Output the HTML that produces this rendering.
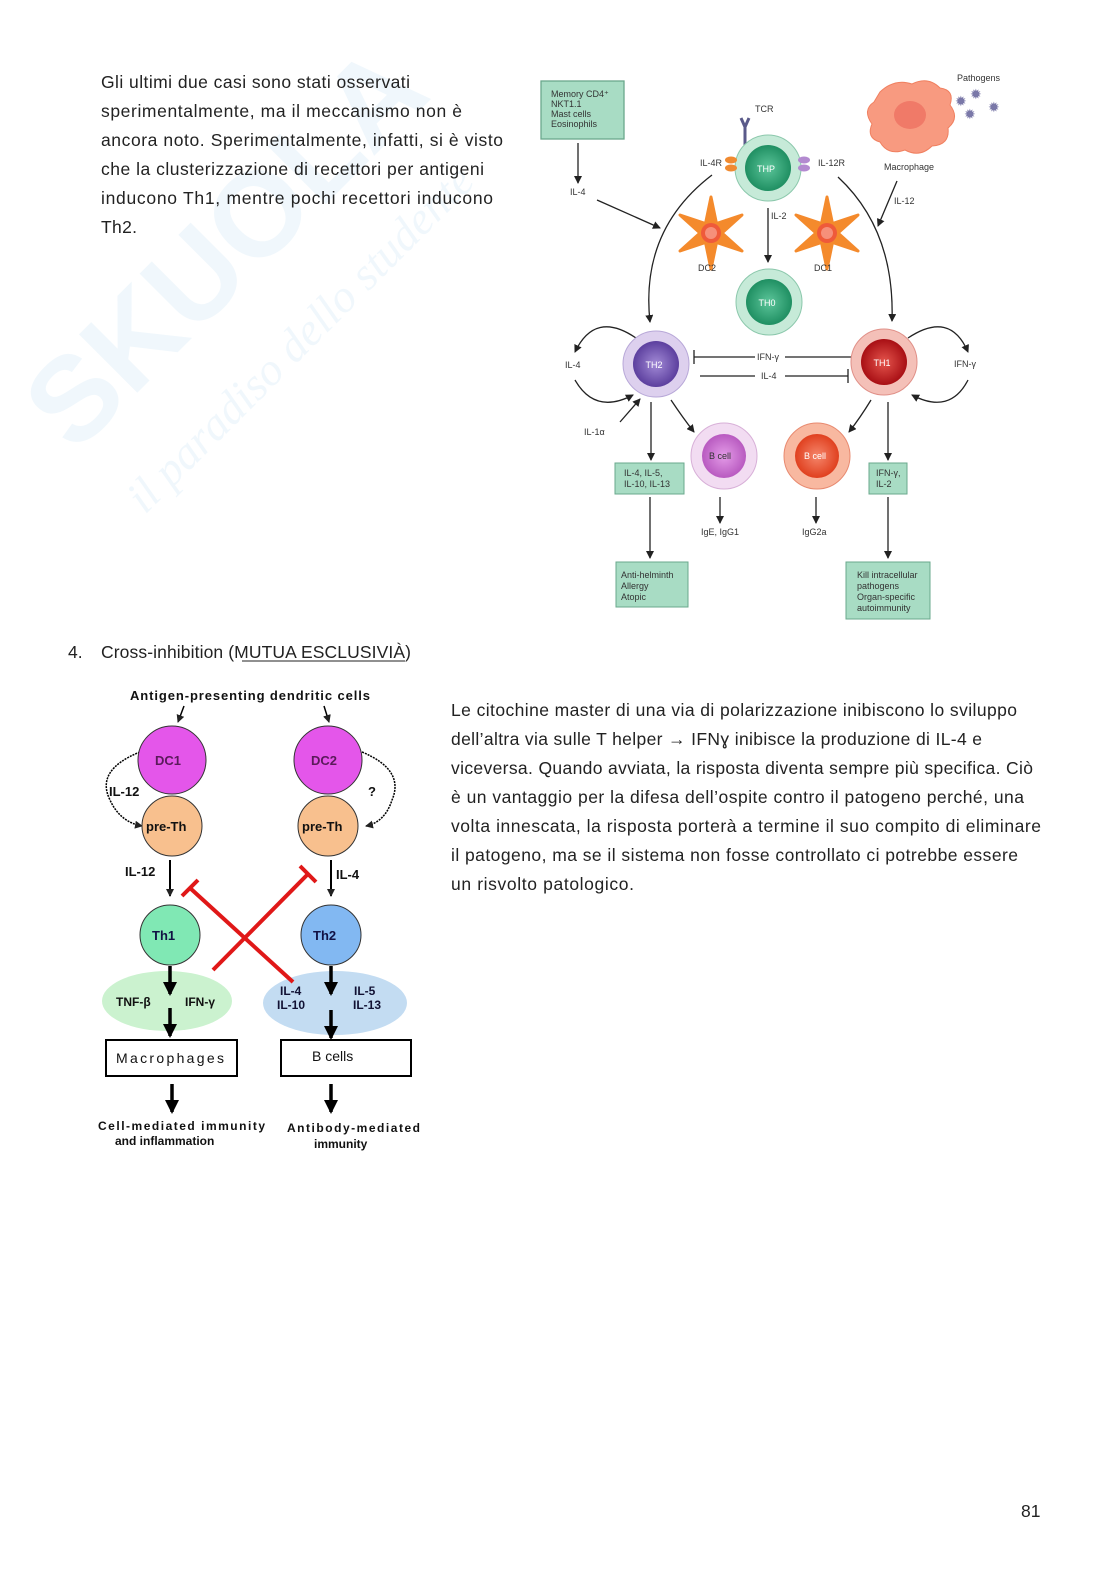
<!DOCTYPE html>
<html><head><meta charset="utf-8"><style>
html,body{margin:0;padding:0;background:#fff}
svg{display:block}
.t{font-family:"Liberation Sans",sans-serif;font-size:17.5px;fill:#222}
.s{font-family:"Liberation Sans",sans-serif;font-size:9px;fill:#333}
.b{font-family:"Liberation Sans",sans-serif;font-weight:bold;font-size:13px;fill:#111}
</style></head><body>
<svg width="1116" height="1579" viewBox="0 0 1116 1579" xmlns="http://www.w3.org/2000/svg">
<defs>
<marker id="a" markerWidth="8" markerHeight="8" refX="7" refY="4" orient="auto" markerUnits="userSpaceOnUse"><path d="M0,0 L8,4 L0,8 z" fill="#222"/></marker>
<marker id="ab" markerWidth="14" markerHeight="14" refX="12" refY="7" orient="auto" markerUnits="userSpaceOnUse"><path d="M0,0 L14,7 L0,14 z" fill="#000"/></marker>
<radialGradient id="gg"><stop offset="0" stop-color="#5cc59a"/><stop offset="1" stop-color="#1f8f62"/></radialGradient>
<radialGradient id="gp"><stop offset="0" stop-color="#a28ad6"/><stop offset="1" stop-color="#5c3f9e"/></radialGradient>
<radialGradient id="gr"><stop offset="0" stop-color="#e4544c"/><stop offset="1" stop-color="#a80f14"/></radialGradient>
<radialGradient id="gb"><stop offset="0" stop-color="#e49be8"/><stop offset="1" stop-color="#b85ac0"/></radialGradient>
<radialGradient id="go"><stop offset="0" stop-color="#f5866b"/><stop offset="1" stop-color="#e0401f"/></radialGradient>
<g id="star"><polygon points="0,-36 5.5,-9.5 31,-18 11,0 31,18 5.5,9.5 0,36 -5.5,9.5 -31,18 -11,0 -31,-18 -5.5,-9.5" fill="#f48a2c" stroke="#f48a2c" stroke-width="3" stroke-linejoin="round"/><circle r="10" fill="#ef5a3a"/><circle r="6" fill="#f6907a"/></g>
</defs>

<!-- watermark -->
<g opacity="0.06">
<text transform="translate(75,455) rotate(-45)" font-family="Liberation Sans" font-weight="bold" font-size="120" fill="#1a8ad0">SKUOLA</text>
<text transform="translate(145,515) rotate(-45)" font-family="Liberation Serif" font-style="italic" font-size="46" fill="#1a8ad0">il paradiso dello studente</text>
</g>

<!-- top left text -->
<g class="t">
<text x="101" y="88" textLength="309">Gli ultimi due casi sono stati osservati</text>
<text x="101" y="117" textLength="361">sperimentalmente, ma il meccanismo non è</text>
<text x="101" y="146" textLength="402">ancora noto. Sperimentalmente, infatti, si è visto</text>
<text x="101" y="175" textLength="383">che la clusterizzazione di recettori per antigeni</text>
<text x="101" y="204" textLength="392">inducono Th1, mentre pochi recettori inducono</text>
<text x="101" y="233" textLength="36">Th2.</text>
</g>

<!-- TOP DIAGRAM -->
<g stroke="#222" stroke-width="1.3" fill="none">
<rect x="541" y="81" width="83" height="58" fill="#a8dcc4" stroke="#6aa88c"/>
<line x1="578" y1="143" x2="578" y2="183" marker-end="url(#a)"/>
<line x1="597" y1="200" x2="660" y2="228" marker-end="url(#a)"/>
<path d="M712,175 Q640,230 650,322" marker-end="url(#a)"/>
<path d="M838,177 Q895,230 892,321" marker-end="url(#a)"/>
<line x1="768" y1="208" x2="768" y2="262" marker-end="url(#a)"/>
<line x1="897" y1="181" x2="878" y2="226" marker-end="url(#a)"/>
<line x1="694" y1="357" x2="755" y2="357"/><line x1="785" y1="357" x2="852" y2="357"/><line x1="694" y1="350" x2="694" y2="364"/>
<line x1="700" y1="376" x2="755" y2="376"/><line x1="785" y1="376" x2="848" y2="376"/><line x1="848" y1="369" x2="848" y2="383"/>
<path d="M636,338 Q595,310 575,352" marker-end="url(#a)"/>
<path d="M575,380 Q595,415 633,395" marker-end="url(#a)"/>
<path d="M908,338 Q950,310 968,352" marker-end="url(#a)"/>
<path d="M968,380 Q950,415 912,395" marker-end="url(#a)"/>
<line x1="620" y1="422" x2="640" y2="399" marker-end="url(#a)"/>
<line x1="651" y1="402" x2="651" y2="460" marker-end="url(#a)"/>
<path d="M671,400 Q683,418 694,432" marker-end="url(#a)"/>
<path d="M871,400 Q860,418 849,432" marker-end="url(#a)"/>
<line x1="888" y1="402" x2="888" y2="460" marker-end="url(#a)"/>
<line x1="720" y1="497" x2="720" y2="523" marker-end="url(#a)"/>
<line x1="816" y1="497" x2="816" y2="523" marker-end="url(#a)"/>
<line x1="650" y1="497" x2="650" y2="558" marker-end="url(#a)"/>
<line x1="888" y1="497" x2="888" y2="558" marker-end="url(#a)"/>
</g>
<rect x="615" y="463" width="69" height="31" fill="#a8dcc4" stroke="#6aa88c"/>
<rect x="869" y="463" width="38" height="31" fill="#a8dcc4" stroke="#6aa88c"/>
<rect x="616" y="562" width="72" height="45" fill="#a8dcc4" stroke="#6aa88c"/>
<rect x="846" y="562" width="84" height="57" fill="#a8dcc4" stroke="#6aa88c"/>
<!-- TCR -->
<path d="M745,145 L745,127 M741,118 L745,127 L749,118" stroke="#5a5a8a" stroke-width="3" fill="none"/>
<!-- cells -->
<circle cx="768" cy="168" r="33" fill="#c6ead8" stroke="#8cc8ac"/><circle cx="768" cy="168" r="23" fill="url(#gg)"/>
<circle cx="769" cy="302" r="33" fill="#c6ead8" stroke="#8cc8ac"/><circle cx="769" cy="302" r="23" fill="url(#gg)"/>
<circle cx="656" cy="364" r="33" fill="#ddd0ee" stroke="#b8a8d8"/><circle cx="656" cy="364" r="23" fill="url(#gp)"/>
<circle cx="884" cy="362" r="33" fill="#f4c0b8" stroke="#e09088"/><circle cx="884" cy="362" r="23" fill="url(#gr)"/>
<circle cx="724" cy="456" r="33" fill="#f2dcf2" stroke="#d8b0d8"/><circle cx="724" cy="456" r="22" fill="url(#gb)"/>
<circle cx="817" cy="456" r="33" fill="#f8b8a0" stroke="#e88a70"/><circle cx="817" cy="456" r="22" fill="url(#go)"/>
<g font-family="Liberation Sans" font-size="9" fill="#fff" text-anchor="middle">
<text x="766" y="172">THP</text><text x="767" y="306">TH0</text><text x="654" y="368">TH2</text><text x="882" y="366">TH1</text>
<text x="720" y="459" fill="#333">B cell</text><text x="815" y="459">B cell</text></g>
<ellipse cx="731" cy="160" rx="6" ry="3.5" fill="#f08a30"/><ellipse cx="731" cy="168" rx="6" ry="3.5" fill="#f08a30"/>
<ellipse cx="804" cy="160" rx="6" ry="3.5" fill="#b38ad0"/><ellipse cx="804" cy="168" rx="6" ry="3.5" fill="#b38ad0"/>
<use href="#star" x="711" y="233"/>
<use href="#star" x="827" y="233"/>
<!-- macrophage -->
<path d="M880,92 Q895,78 912,84 Q928,76 940,88 Q955,90 950,105 Q960,118 948,128 Q950,145 932,146 Q920,158 905,150 Q888,156 880,142 Q866,138 872,124 Q862,110 874,102 Z" fill="#f89a80" stroke="#f08060"/>
<ellipse cx="910" cy="115" rx="16" ry="14" fill="#f07a68"/>
<g fill="#7a78a8" font-size="14" font-family="DejaVu Sans"><text x="955" y="106">✹</text><text x="970" y="99">✹</text><text x="964" y="119">✹</text><text x="988" y="112">✹</text></g>
<g class="s">
<text x="551" y="97">Memory CD4⁺</text><text x="551" y="107">NKT1.1</text><text x="551" y="117">Mast cells</text><text x="551" y="127">Eosinophils</text>
<text x="570" y="195">IL-4</text>
<text x="755" y="112">TCR</text>
<text x="700" y="166">IL-4R</text><text x="818" y="166">IL-12R</text>
<text x="771" y="219">IL-2</text>
<text x="698" y="271">DC2</text><text x="814" y="271">DC1</text>
<text x="957" y="81">Pathogens</text>
<text x="884" y="170">Macrophage</text>
<text x="894" y="204">IL-12</text>
<text x="757" y="360">IFN-γ</text><text x="761" y="379">IL-4</text>
<text x="565" y="368">IL-4</text><text x="954" y="367">IFN-γ</text>
<text x="584" y="435">IL-1α</text>
<text x="624" y="476">IL-4, IL-5,</text><text x="624" y="487">IL-10, IL-13</text>
<text x="876" y="476">IFN-γ,</text><text x="876" y="487">IL-2</text>
<text x="701" y="535">IgE, IgG1</text><text x="802" y="535">IgG2a</text>
<text x="621" y="578">Anti-helminth</text><text x="621" y="589">Allergy</text><text x="621" y="600">Atopic</text>
<text x="857" y="578">Kill intracellular</text><text x="857" y="589">pathogens</text><text x="857" y="600">Organ-specific</text><text x="857" y="611">autoimmunity</text>
</g>

<!-- heading -->
<text class="t" x="68" y="658">4.</text>
<text class="t" x="101" y="658" textLength="310">Cross-inhibition (MUTUA ESCLUSIVIÀ)</text>
<line x1="242" y1="661" x2="405" y2="661" stroke="#222" stroke-width="1"/>

<!-- BOTTOM DIAGRAM -->
<text class="b" x="250" y="700" text-anchor="middle" textLength="240">Antigen-presenting dendritic cells</text>
<g stroke="#000" stroke-width="1.5" fill="none">
<line x1="184" y1="706" x2="178" y2="722" marker-end="url(#a)"/>
<line x1="324" y1="706" x2="329" y2="722" marker-end="url(#a)"/>
<path d="M140,752 Q95,770 110,800 Q120,822 142,826" stroke-dasharray="2,1" marker-end="url(#a)"/>
<path d="M362,752 Q405,770 392,800 Q385,822 366,826" stroke-dasharray="2,1" marker-end="url(#a)"/>
</g>
<circle cx="172" cy="760" r="34" fill="#e456ea" stroke="#333"/>
<circle cx="328" cy="760" r="34" fill="#e456ea" stroke="#333"/>
<circle cx="172" cy="826" r="30" fill="#f8c08e" stroke="#333"/>
<circle cx="328" cy="826" r="30" fill="#f8c08e" stroke="#333"/>
<ellipse cx="167" cy="1001" rx="65" ry="30" fill="#cbf2cf"/>
<ellipse cx="335" cy="1003" rx="72" ry="32" fill="#c3dcf2"/>
<circle cx="170" cy="935" r="30" fill="#80e8b4" stroke="#333"/>
<circle cx="331" cy="935" r="30" fill="#82b8f2" stroke="#333"/>
<g stroke="#000" stroke-width="2" fill="none">
<line x1="170" y1="860" x2="170" y2="896" marker-end="url(#a)"/>
<line x1="331" y1="860" x2="331" y2="896" marker-end="url(#a)"/>
</g>
<g stroke="#000" stroke-width="3.5">
<line x1="170" y1="966" x2="170" y2="994" marker-end="url(#ab)"/>
<line x1="170" y1="1008" x2="170" y2="1036" marker-end="url(#ab)"/>
<line x1="331" y1="966" x2="331" y2="994" marker-end="url(#ab)"/>
<line x1="331" y1="1010" x2="331" y2="1038" marker-end="url(#ab)"/>
<line x1="172" y1="1084" x2="172" y2="1112" marker-end="url(#ab)"/>
<line x1="331" y1="1084" x2="331" y2="1112" marker-end="url(#ab)"/>
</g>
<g stroke="#e01818" stroke-width="4" fill="none">
<line x1="213" y1="970" x2="308" y2="874"/><line x1="300" y1="866" x2="316" y2="882"/>
<line x1="293" y1="982" x2="190" y2="888"/><line x1="182" y1="896" x2="198" y2="880"/>
</g>
<rect x="106" y="1040" width="131" height="36" fill="#fff" stroke="#000" stroke-width="2"/>
<rect x="281" y="1040" width="130" height="36" fill="#fff" stroke="#000" stroke-width="2"/>
<g class="b">
<text x="155" y="765" fill="#5a1a5a">DC1</text><text x="311" y="765" fill="#5a1a5a">DC2</text>
<text x="109" y="796">IL-12</text><text x="368" y="796">?</text>
<text x="146" y="831">pre-Th</text><text x="302" y="831">pre-Th</text>
<text x="125" y="876">IL-12</text><text x="336" y="879">IL-4</text>
<text x="152" y="940" fill="#114">Th1</text><text x="313" y="940" fill="#114">Th2</text>
<text x="116" y="1006" font-size="12">TNF-β</text><text x="185" y="1006" font-size="12">IFN-γ</text>
<text x="280" y="995" font-size="12" fill="#113">IL-4</text><text x="277" y="1009" font-size="12" fill="#113">IL-10</text>
<text x="354" y="995" font-size="12" fill="#113">IL-5</text><text x="353" y="1009" font-size="12" fill="#113">IL-13</text>
<text x="116" y="1063" font-weight="normal" font-size="14" textLength="108">Macrophages</text>
<text x="312" y="1061" font-weight="normal" font-size="14">B cells</text>
<text x="98" y="1130" font-size="12" textLength="167">Cell-mediated immunity</text>
<text x="115" y="1145" font-size="12">and inflammation</text>
<text x="287" y="1132" font-size="12" textLength="133">Antibody-mediated</text>
<text x="314" y="1148" font-size="12">immunity</text>
</g>

<!-- right text -->
<g class="t">
<text x="451" y="716" textLength="566">Le citochine master di una via di polarizzazione inibiscono lo sviluppo</text>
<text x="451" y="745" textLength="531">dell’altra via sulle T helper → IFNɣ inibisce la produzione di IL-4 e</text>
<text x="451" y="774" textLength="582">viceversa. Quando avviata, la risposta diventa sempre più specifica. Ciò</text>
<text x="451" y="803" textLength="573">è un vantaggio per la difesa dell’ospite contro il patogeno perché, una</text>
<text x="451" y="832" textLength="590">volta innescata, la risposta porterà a termine il suo compito di eliminare</text>
<text x="451" y="861" textLength="567">il patogeno, ma se il sistema non fosse controllato ci potrebbe essere</text>
<text x="451" y="890" textLength="183">un risvolto patologico.</text>
</g>
<text class="t" x="1021" y="1517">81</text>
</svg>
</body></html>
